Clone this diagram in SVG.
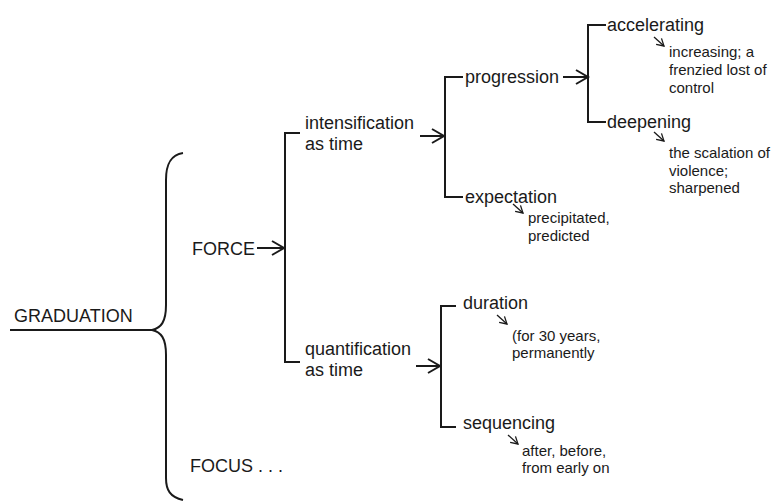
<svg xmlns="http://www.w3.org/2000/svg" width="773" height="502" viewBox="0 0 773 502">
<style>
.t{font-family:"Liberation Sans",Arial,sans-serif;fill:#1a1a1a}
.m{font-size:18px}
.s{font-size:15px}
.ln{fill:none;stroke:#1a1a1a;stroke-width:2;stroke-linejoin:miter}
.ar{fill:none;stroke:#1a1a1a;stroke-width:2;marker-end:url(#big)}
.sa{fill:none;stroke:#1a1a1a;stroke-width:1.3;marker-end:url(#small)}
</style>
<defs>
<marker id="big" markerUnits="userSpaceOnUse" markerWidth="14" markerHeight="16" refX="12" refY="7" orient="auto" overflow="visible">
<path d="M0,0 L12,7 L0,14" fill="none" stroke="#1a1a1a" stroke-width="2"/>
</marker>
<marker id="small" markerUnits="userSpaceOnUse" markerWidth="9" markerHeight="9" refX="7" refY="4" orient="auto" overflow="visible">
<path d="M0,0 L7,4 L0,8" fill="none" stroke="#1a1a1a" stroke-width="1.3"/>
</marker>
</defs>
<g id="connectors">
<path class="ln" d="M10,330 L152,330"/>
<path class="ln" d="M183,153 C170,155 166,165 166,180 L166,305 C166,322 161,328 152,330 C161,332 166,338 166,355 L166,478 C166,490 170,497 183,500"/>
<path class="ar" d="M257,248 L284,248"/>
<path class="ln" d="M300,133 L285,133 L285,362 L300,362"/>
<path class="ar" d="M420,136 L444,136"/>
<path class="ln" d="M463,77 L445,77 L445,197 L463,197"/>
<path class="ar" d="M563,77 L588,77"/>
<path class="ln" d="M606,25 L588,25 L588,122 L606,122"/>
<path class="ar" d="M416,366 L440,366"/>
<path class="ln" d="M456,306 L441,306 L441,427 L456,427"/>
<path class="sa" d="M654,37 L664,46"/>
<path class="sa" d="M654,132 L664,141"/>
<path class="sa" d="M513,204 L523,213"/>
<path class="sa" d="M497,315 L507,324"/>
<path class="sa" d="M508,435 L518,444"/>
</g>
<g id="graduation"><text class="t m" x="14" y="322">GRADUATION</text></g>
<g id="force"><text class="t m" x="192" y="255">FORCE</text></g>
<g id="focus"><text class="t m" x="190" y="472">FOCUS . . .</text></g>
<g id="intensification"><text class="t m" x="305" y="129">intensification</text><text class="t m" x="305" y="150">as time</text></g>
<g id="quantification"><text class="t m" x="305" y="355">quantification</text><text class="t m" x="305" y="376">as time</text></g>
<g id="progression"><text class="t m" x="465" y="83">progression</text></g>
<g id="expectation"><text class="t m" x="465" y="203">expectation</text>
<text class="t s" x="528" y="223">precipitated,</text><text class="t s" x="528" y="241">predicted</text></g>
<g id="accelerating"><text class="t m" x="607" y="31">accelerating</text>
<text class="t s" x="669" y="57">increasing; a</text><text class="t s" x="669" y="75">frenzied lost of</text><text class="t s" x="669" y="93">control</text></g>
<g id="deepening"><text class="t m" x="607" y="128">deepening</text>
<text class="t s" x="669" y="158">the scalation of</text><text class="t s" x="669" y="176">violence;</text><text class="t s" x="669" y="193">sharpened</text></g>
<g id="duration"><text class="t m" x="463" y="309">duration</text>
<text class="t s" x="512" y="341">(for 30 years,</text><text class="t s" x="512" y="358">permanently</text></g>
<g id="sequencing"><text class="t m" x="463" y="429">sequencing</text>
<text class="t s" x="522" y="456">after, before,</text><text class="t s" x="522" y="473">from early on</text></g>
</svg>
